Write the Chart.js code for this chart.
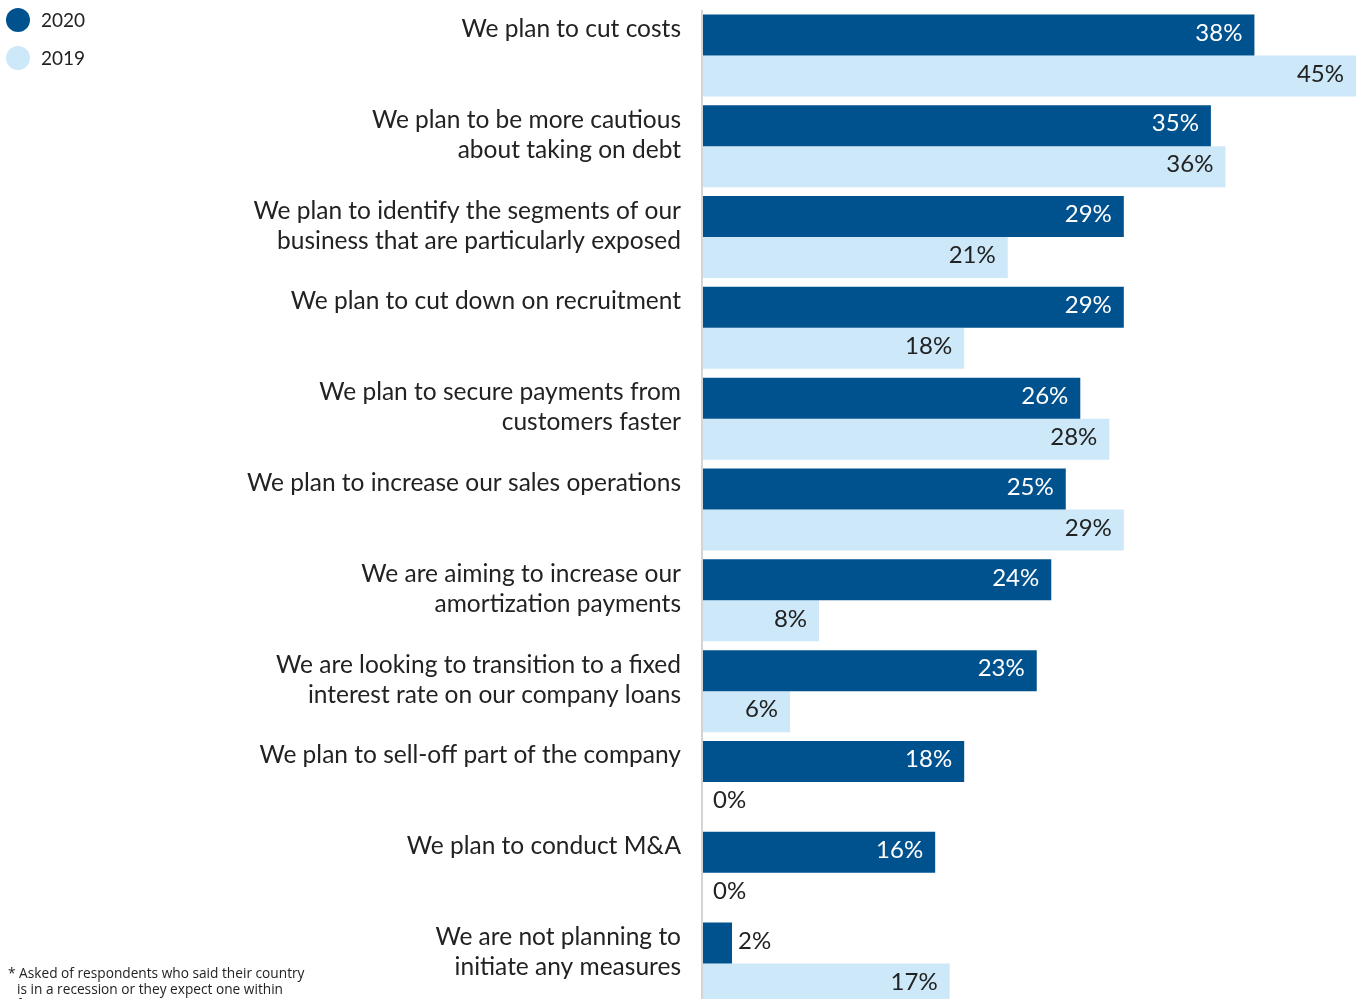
<!DOCTYPE html>
<html>
<head>
<meta charset="utf-8">
<title>Planned measures 2020 vs 2019</title>
<script src="https://cdn.jsdelivr.net/npm/chart.js@4/dist/chart.umd.min.js"></script>
<style>
  html, body { margin: 0; padding: 0; background: #fff; overflow: hidden; }
  body { width: 1360px; height: 999px; position: relative; font-family: Lato, "Open Sans", sans-serif; color: #222; }
  #chart { position: absolute; left: 0; top: 0; }
  .legend { position: absolute; left: 6px; top: 8px; font-size: 19px; }
  .legend div { height: 38px; display: flex; align-items: flex-start; }
  .legend span.dot { width: 24px; height: 24px; border-radius: 50%; margin-right: 11px; }
  .legend span.txt { line-height: 24px; }
  .note { position: absolute; left: 8px; top: 965px; font-family: "Open Sans", sans-serif; font-size: 13.7px; line-height: 15.5px; color: #222; white-space: nowrap; }
  .note div { padding-left: 9px; }
  .note div:first-child { padding-left: 0; }
</style>
</head>
<body>
<canvas id="chart" width="1360" height="1009"></canvas>

<div class="legend">
  <div><span class="dot" style="background:#00528f"></span><span class="txt">2020</span></div>
  <div><span class="dot" style="background:#cde8f8"></span><span class="txt">2019</span></div>
</div>

<div class="note">
  <div>* Asked of respondents who said their country</div>
  <div>is in a recession or they expect one within</div>
  <div>five years</div>
</div>

<script>
const categories = [
  ["We plan to cut costs"],
  ["We plan to be more cautious", "about taking on debt"],
  ["We plan to identify the segments of our", "business that are particularly exposed"],
  ["We plan to cut down on recruitment"],
  ["We plan to secure payments from", "customers faster"],
  ["We plan to increase our sales operations"],
  ["We are aiming to increase our", "amortization payments"],
  ["We are looking to transition to a fixed", "interest rate on our company loans"],
  ["We plan to sell-off part of the company"],
  ["We plan to conduct M&A"],
  ["We are not planning to", "initiate any measures"]
];
const values2020 = [38, 35, 29, 29, 26, 25, 24, 23, 18, 16, 2];
const values2019 = [45, 36, 21, 18, 28, 29, 8, 6, 0, 0, 17];

const DARK = "#00528f";
const LIGHT = "#cde8f8";
const TEXT = "#222222";

// category text on the left, top-aligned with each group's first bar
const categoryLabels = {
  id: "categoryLabels",
  afterDraw(chart) {
    const { ctx, scales: { y } } = chart;
    ctx.save();
    ctx.font = "24.5px Lato";
    ctx.fillStyle = TEXT;
    ctx.textAlign = "right";
    ctx.textBaseline = "middle";
    chart.data.labels.forEach((lines, i) => {
      const top = y.getPixelForValue(i) - y.height / chart.data.labels.length / 2;
      lines.forEach((line, k) => ctx.fillText(line, 681, top + 19 + k * 30));
    });
    ctx.restore();
  }
};

// percentage labels at the end of every bar
const valueLabels = {
  id: "valueLabels",
  afterDatasetsDraw(chart) {
    const { ctx, scales: { x } } = chart;
    const zero = x.getPixelForValue(0);
    ctx.save();
    ctx.font = "24px Lato";
    ctx.textBaseline = "middle";
    chart.data.datasets.forEach((ds, di) => {
      chart.getDatasetMeta(di).data.forEach((bar, i) => {
        const v = ds.data[i];
        const txt = v + "%";
        if (v < 4) {
          ctx.textAlign = "left";
          ctx.fillStyle = TEXT;
          ctx.fillText(txt, (v === 0 ? zero + 10 : bar.x + 6), bar.y - 2);
        } else {
          ctx.textAlign = "right";
          ctx.fillStyle = di === 0 ? "#ffffff" : TEXT;
          ctx.fillText(txt, bar.x - 12, bar.y - 2);
        }
      });
    });
    ctx.restore();
  }
};

// thin grey baseline at zero
const baseline = {
  id: "baseline",
  beforeDatasetsDraw(chart) {
    const { ctx, chartArea, scales: { x } } = chart;
    const px = x.getPixelForValue(0) - 1;
    ctx.save();
    ctx.strokeStyle = "#d4d4d4";
    ctx.lineWidth = 2;
    ctx.beginPath();
    ctx.moveTo(px, chartArea.top);
    ctx.lineTo(px, chartArea.bottom);
    ctx.stroke();
    ctx.restore();
  }
};

new Chart(document.getElementById("chart").getContext("2d"), {
  type: "bar",
  data: {
    labels: categories,
    datasets: [
      { label: "2020", data: values2020, backgroundColor: DARK, barPercentage: 1, categoryPercentage: 0.903 },
      { label: "2019", data: values2019, backgroundColor: LIGHT, barPercentage: 1, categoryPercentage: 0.903 }
    ]
  },
  options: {
    indexAxis: "y",
    responsive: false,
    animation: false,
    devicePixelRatio: 1,
    layout: { padding: { left: 703, right: 4, top: 10, bottom: 0 } },
    plugins: {
      legend: { display: false },
      tooltip: { enabled: false }
    },
    scales: {
      x: { display: false, min: 0, max: 45 },
      y: { display: false }
    }
  },
  plugins: [baseline, valueLabels, categoryLabels]
});
</script>
</body>
</html>
